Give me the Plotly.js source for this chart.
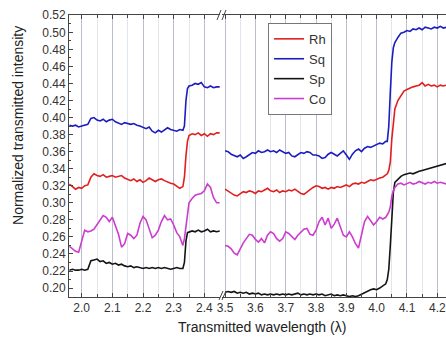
<!DOCTYPE html>
<html>
<head>
<meta charset="utf-8">
<script src="https://cdn.plot.ly/plotly-3.0.1.min.js"></script>
<style>html,body{margin:0;padding:0;background:#fff;}#chart{width:446px;height:338px;}</style>
</head>
<body>
<div id="chart"></div>
<script>
// ---- data ----
const seriesNames = ["Rh", "Sq", "Sp", "Co"];
const xLeft = [1.96,1.97,1.98,1.99,2.00,2.01,2.02,2.03,2.04,2.05,2.06,2.07,2.08,2.09,2.10,2.11,2.12,2.13,2.14,2.15,2.16,2.17,2.18,2.19,2.20,2.21,2.22,2.23,2.24,2.25,2.26,2.27,2.28,2.29,2.30,2.31,2.32,2.33,2.335,2.34,2.345,2.35,2.36,2.37,2.38,2.39,2.40,2.41,2.42,2.43,2.44,2.45];
const xRight = [3.50,3.51,3.52,3.53,3.54,3.55,3.56,3.57,3.58,3.59,3.60,3.61,3.62,3.63,3.64,3.65,3.66,3.67,3.68,3.69,3.70,3.71,3.72,3.73,3.74,3.75,3.76,3.77,3.78,3.79,3.80,3.81,3.82,3.83,3.84,3.85,3.86,3.87,3.88,3.89,3.90,3.91,3.92,3.93,3.94,3.95,3.96,3.97,3.98,3.99,4.00,4.01,4.02,4.03,4.035,4.04,4.045,4.05,4.055,4.06,4.07,4.08,4.09,4.10,4.11,4.12,4.13,4.14,4.15,4.16,4.17,4.18,4.19,4.20,4.21,4.22,4.23];

const rhLeft = [0.322,0.319,0.316,0.318,0.317,0.320,0.321,0.330,0.334,0.332,0.331,0.333,0.330,0.331,0.332,0.330,0.331,0.332,0.329,0.327,0.326,0.328,0.325,0.327,0.324,0.326,0.329,0.327,0.325,0.327,0.328,0.326,0.324,0.323,0.322,0.320,0.317,0.319,0.330,0.355,0.372,0.379,0.381,0.380,0.382,0.379,0.381,0.378,0.381,0.380,0.382,0.382];
const sqLeft = [0.391,0.390,0.391,0.389,0.390,0.391,0.392,0.399,0.400,0.397,0.396,0.398,0.395,0.397,0.398,0.395,0.393,0.392,0.394,0.393,0.392,0.393,0.391,0.390,0.388,0.387,0.389,0.384,0.382,0.385,0.383,0.386,0.388,0.386,0.385,0.384,0.386,0.385,0.390,0.420,0.434,0.437,0.438,0.440,0.439,0.441,0.436,0.435,0.437,0.435,0.436,0.436];
const spLeft = [0.221,0.222,0.221,0.221,0.222,0.221,0.222,0.232,0.233,0.234,0.231,0.232,0.229,0.230,0.228,0.229,0.227,0.228,0.226,0.225,0.226,0.224,0.225,0.224,0.223,0.224,0.223,0.224,0.223,0.224,0.223,0.224,0.223,0.222,0.223,0.224,0.223,0.223,0.230,0.255,0.265,0.266,0.267,0.266,0.268,0.266,0.267,0.269,0.266,0.267,0.266,0.267];
const coLeft = [0.249,0.246,0.243,0.242,0.256,0.268,0.266,0.267,0.269,0.274,0.279,0.285,0.283,0.278,0.283,0.274,0.263,0.248,0.252,0.264,0.262,0.258,0.262,0.276,0.284,0.280,0.268,0.259,0.262,0.268,0.278,0.285,0.280,0.281,0.274,0.265,0.260,0.250,0.258,0.272,0.290,0.300,0.305,0.309,0.310,0.311,0.314,0.322,0.318,0.306,0.300,0.300];

const rhRight = [0.316,0.314,0.311,0.309,0.308,0.311,0.313,0.312,0.314,0.313,
 0.311,0.314,0.313,0.315,0.317,0.314,0.313,0.315,0.312,0.314,
 0.313,0.315,0.314,0.316,0.313,0.311,0.310,0.313,0.316,0.318,
 0.320,0.319,0.317,0.318,0.316,0.318,0.317,0.319,0.318,0.320,
 0.321,0.319,0.322,0.323,0.322,0.324,0.323,0.325,0.327,0.326,
 0.328,0.329,0.330,0.333,
 0.334,0.338,0.348,0.375,0.398,
 0.410,0.420,0.426,0.431,0.433,0.435,0.436,0.437,0.438,0.441,0.437,0.439,0.437,0.438,0.436,0.438,0.437,0.438];
const sqRight = [0.361,0.360,0.357,0.355,0.354,0.356,0.352,0.354,0.357,0.359,
 0.358,0.361,0.359,0.360,0.362,0.360,0.361,0.359,0.362,0.360,
 0.358,0.359,0.355,0.354,0.356,0.359,0.358,0.360,0.359,0.356,
 0.356,0.355,0.352,0.353,0.357,0.359,0.357,0.355,0.358,0.361,
 0.356,0.351,0.357,0.361,0.363,0.360,0.364,0.366,0.365,0.367,
 0.368,0.370,0.369,0.372,
 0.372,0.390,0.430,0.465,0.482,
 0.488,0.494,0.499,0.500,0.502,0.501,0.504,0.503,0.505,0.503,0.506,0.505,0.504,0.506,0.505,0.507,0.505,0.506];
const spRight = [0.195,0.196,0.195,0.196,0.194,0.195,0.194,0.195,0.193,0.194,
 0.193,0.194,0.192,0.193,0.192,0.193,0.192,0.193,0.192,0.193,
 0.192,0.193,0.192,0.193,0.194,0.192,0.193,0.192,0.193,0.192,
 0.193,0.192,0.193,0.191,0.192,0.193,0.191,0.192,0.191,0.192,
 0.191,0.190,0.191,0.190,0.191,0.193,0.194,0.196,0.198,0.199,
 0.198,0.200,0.202,0.205,
 0.210,0.222,0.250,0.285,0.312,
 0.324,0.328,0.331,0.333,0.334,0.335,0.334,0.336,0.337,0.338,0.339,0.340,0.341,0.342,0.343,0.344,0.345,0.346];
const coRight = [0.250,0.249,0.246,0.241,0.239,0.246,0.253,0.258,0.263,0.262,
 0.257,0.254,0.258,0.253,0.262,0.266,0.264,0.258,0.255,0.258,
 0.266,0.264,0.260,0.257,0.262,0.266,0.269,0.270,0.263,0.262,
 0.268,0.278,0.283,0.274,0.282,0.270,0.275,0.282,0.272,0.262,
 0.260,0.266,0.260,0.252,0.247,0.262,0.278,0.284,0.279,0.274,
 0.278,0.283,0.281,0.283,
 0.286,0.289,0.295,0.308,0.314,
 0.318,0.322,0.323,0.321,0.323,0.324,0.322,0.323,0.325,0.323,0.322,0.324,0.323,0.325,0.323,0.324,0.323,0.322];

const xTickVals = [2.0,2.1,2.2,2.3,2.4,3.5,3.6,3.7,3.8,3.9,4.0,4.1,4.2];
const xTitle = "Transmitted wavelength (\u03bb)";
const yTitle = "Normalized transmitted intensity";

// ---- styling ----
const colors = {Rh:"#e21f1f", Sq:"#1d1dbf", Sp:"#141414", Co:"#cc3ccf"};
const leftData = {Rh:rhLeft, Sq:sqLeft, Sp:spLeft, Co:coLeft};
const rightData = {Rh:rhRight, Sq:sqRight, Sp:spRight, Co:coRight};

const traces = [];
seriesNames.forEach(n => {
  traces.push({x:xLeft, y:leftData[n], xaxis:"x", yaxis:"y", type:"scatter", mode:"lines", name:n, legendgroup:n, showlegend:true, line:{color:colors[n], width:1.6}});
});
seriesNames.forEach(n => {
  traces.push({x:xRight, y:rightData[n], xaxis:"x2", yaxis:"y", type:"scatter", mode:"lines", name:n, legendgroup:n, showlegend:false, line:{color:colors[n], width:1.6}});
});

const axisCol = "#444";
function xAxis(domain, range) {
  return {
    domain: domain, range: range, anchor: "y",
    tickmode: "array", tickvals: xTickVals, tickformat: ".1f",
    ticks: "inside", ticklen: 4, tickcolor: axisCol,
    showline: true, linecolor: axisCol, linewidth: 1, mirror: "ticks",
    showgrid: true, gridcolor: "#b9bdcc", gridwidth: 1, zeroline: false,
    tickfont: {size: 12, color: "#333"},
    minor: {dtick: 0.05, tick0: 2.0, ticks: "inside", ticklen: 3, tickcolor: axisCol, showgrid: true, gridcolor: "#e3e5ed", gridwidth: 1}
  };
}

const layout = {
  width: 446, height: 338,
  margin: {l: 69, r: 0, t: 15, b: 41, pad: 0},
  paper_bgcolor: "#fff", plot_bgcolor: "#fff",
  font: {family: '"Liberation Sans", Arial, sans-serif', size: 12, color: "#333"},
  showlegend: true,
  legend: {x: 0.528, y: 0.972, xanchor: "left", yanchor: "top", bgcolor: "#fff", bordercolor: "#777", borderwidth: 1, font: {size: 13, color: "#333"}, traceorder: "normal", tracegroupgap: 0},
  xaxis: xAxis([0, 0.4005], [1.9586, 2.451]),
  xaxis2: xAxis([0.406, 1], [3.49, 4.2287]),
  yaxis: {
    range: [0.1895, 0.5203], tick0: 0.2, dtick: 0.02, tickformat: ".2f",
    ticks: "inside", ticklen: 4, tickcolor: axisCol,
    showline: true, linecolor: axisCol, linewidth: 1, mirror: false,
    showgrid: false, zeroline: false,
    tickfont: {size: 12, color: "#333"},
    minor: {dtick: 0.01, ticks: "inside", ticklen: 2, tickcolor: axisCol, showgrid: false}
  },
  annotations: [
    {text: xTitle, xref: "paper", yref: "paper", x: 0.512, y: -0.1064, xanchor: "center", yanchor: "middle", showarrow: false, font: {size: 14, color: "#222"}},
    {text: yTitle, xref: "paper", yref: "paper", x: -0.1353, y: 0.61, xanchor: "center", yanchor: "middle", textangle: -90, showarrow: false, font: {size: 14, color: "#222"}}
  ],
  shapes: [
    {type: "line", xref: "paper", yref: "paper", x0: 0.3979, y0: -0.0106, x1: 0.4085, y1: 0.0213, line: {color: axisCol, width: 1}},
    {type: "line", xref: "paper", yref: "paper", x0: 0.4058, y0: -0.0106, x1: 0.4164, y1: 0.0213, line: {color: axisCol, width: 1}},
    {type: "line", xref: "paper", yref: "paper", x0: 0.3926, y0: 0.9823, x1: 0.4032, y1: 1.0177, line: {color: axisCol, width: 1}},
    {type: "line", xref: "paper", yref: "paper", x0: 0.4058, y0: 0.9823, x1: 0.4164, y1: 1.0177, line: {color: axisCol, width: 1}}
  ]
};

Plotly.newPlot("chart", traces, layout, {displayModeBar: false, staticPlot: true});
</script>
</body>
</html>
